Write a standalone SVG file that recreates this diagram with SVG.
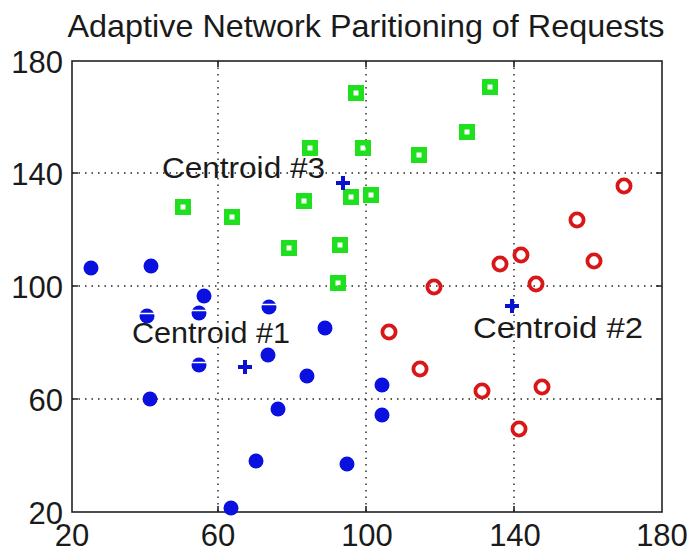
<svg xmlns="http://www.w3.org/2000/svg" width="692" height="553" viewBox="0 0 692 553">
<style>
text{font-family:"Liberation Sans",Arial,sans-serif;fill:#1a1a1a}
.tick{font-size:31px}
.lbl{font-size:30px}
.grid{stroke:#222;stroke-width:1.4;stroke-dasharray:1.5 5;fill:none}
.axis{stroke:#222;stroke-width:1.6;fill:none}
.b{fill:#0a10e0}
.cut{stroke:#fff;stroke-width:1.6}
.sq{fill:none;stroke:#1ee01e;stroke-width:5.5}
.ci{fill:none;stroke:#d81818;stroke-width:3.8}
.pl{stroke:#0a10d0;stroke-width:4;fill:none}
</style>
<rect width="692" height="553" fill="#fff"/>
<text x="366" y="37" font-size="32" text-anchor="middle" textLength="597" lengthAdjust="spacingAndGlyphs">Adaptive Network Paritioning of Requests</text>
<g id="grid">
<path class="grid" d="M218 61V512M366 61V512M514 61V512M72 173H662M72 286H662M72 399H662"/>
</g>
<g id="axes">
<rect class="axis" x="72" y="61" width="590" height="451"/>
<path class="axis" d="M218 512v-6M366 512v-6M514 512v-6M218 61v6M366 61v6M514 61v6M72 173h6M72 286h6M72 399h6M662 173h-6M662 286h-6M662 399h-6"/>
</g>
<g id="yticks" class="tick" text-anchor="end">
<text x="63" y="73">180</text>
<text x="63" y="185">140</text>
<text x="63" y="298">100</text>
<text x="63" y="411">60</text>
<text x="63" y="524">20</text>
</g>
<g id="xticks" class="tick" text-anchor="middle">
<text x="72" y="546">20</text>
<text x="218" y="546">60</text>
<text x="367" y="546">100</text>
<text x="515" y="546">140</text>
<text x="662" y="546">180</text>
</g>
<g id="cluster1">
<circle class="b" cx="91" cy="268" r="7.5"/>
<circle class="b" cx="151" cy="266" r="7.5"/>
<circle class="b" cx="204" cy="296" r="7.5"/>
<circle class="b" cx="147" cy="316" r="7.5"/>
<circle class="b" cx="199" cy="313" r="7.5"/>
<circle class="b" cx="199" cy="365" r="7.5"/>
<circle class="b" cx="150" cy="399" r="7.5"/>
<circle class="b" cx="269" cy="307" r="7.5"/>
<circle class="b" cx="325" cy="328" r="7.5"/>
<circle class="b" cx="268" cy="355" r="7.5"/>
<circle class="b" cx="307" cy="376" r="7.5"/>
<circle class="b" cx="278" cy="409" r="7.5"/>
<circle class="b" cx="256" cy="461" r="7.5"/>
<circle class="b" cx="231" cy="508" r="7.5"/>
<circle class="b" cx="347" cy="464" r="7.5"/>
<circle class="b" cx="382" cy="385" r="7.5"/>
<circle class="b" cx="382" cy="415" r="7.5"/>
<path class="cut" d="M139 313.5h16M191 310.5h16M191 362.5h16M261 304.5h16"/>
</g>
<g id="cluster3">
<rect class="sq" x="177.75" y="201.75" width="10.5" height="10.5"/>
<rect class="sq" x="226.75" y="211.75" width="10.5" height="10.5"/>
<rect class="sq" x="350.75" y="87.75" width="10.5" height="10.5"/>
<rect class="sq" x="304.75" y="142.75" width="10.5" height="10.5"/>
<rect class="sq" x="357.75" y="142.75" width="10.5" height="10.5"/>
<rect class="sq" x="413.75" y="149.75" width="10.5" height="10.5"/>
<rect class="sq" x="461.75" y="126.75" width="10.5" height="10.5"/>
<rect class="sq" x="484.75" y="81.75" width="10.5" height="10.5"/>
<rect class="sq" x="345.75" y="191.75" width="10.5" height="10.5"/>
<rect class="sq" x="365.75" y="189.75" width="10.5" height="10.5"/>
<rect class="sq" x="298.75" y="195.75" width="10.5" height="10.5"/>
<rect class="sq" x="283.75" y="242.75" width="10.5" height="10.5"/>
<rect class="sq" x="334.75" y="239.75" width="10.5" height="10.5"/>
<rect class="sq" x="332.75" y="277.75" width="10.5" height="10.5"/>
</g>
<g id="cluster2">
<circle class="ci" cx="434" cy="287" r="6.6"/>
<circle class="ci" cx="389" cy="332" r="6.6"/>
<circle class="ci" cx="420" cy="369" r="6.6"/>
<circle class="ci" cx="482" cy="391" r="6.6"/>
<circle class="ci" cx="624" cy="186" r="6.6"/>
<circle class="ci" cx="577" cy="220" r="6.6"/>
<circle class="ci" cx="500" cy="264" r="6.6"/>
<circle class="ci" cx="521" cy="255" r="6.6"/>
<circle class="ci" cx="594" cy="261" r="6.6"/>
<circle class="ci" cx="536" cy="284" r="6.6"/>
<circle class="ci" cx="542" cy="387" r="6.6"/>
<circle class="ci" cx="519" cy="429" r="6.6"/>
</g>
<g id="centroids">
<path class="pl" d="M238 367h14M245 360v14"/>
<path class="pl" d="M336 183h14M343 176v14"/>
<path class="pl" d="M505 306h14M512 299v14"/>
</g>
<g id="labels" class="lbl">
<text x="162" y="178" textLength="163" lengthAdjust="spacingAndGlyphs">Centroid #3</text>
<text x="132" y="343" textLength="158" lengthAdjust="spacingAndGlyphs">Centroid #1</text>
<text x="473" y="338" textLength="170" lengthAdjust="spacingAndGlyphs">Centroid #2</text>
</g>
</svg>
